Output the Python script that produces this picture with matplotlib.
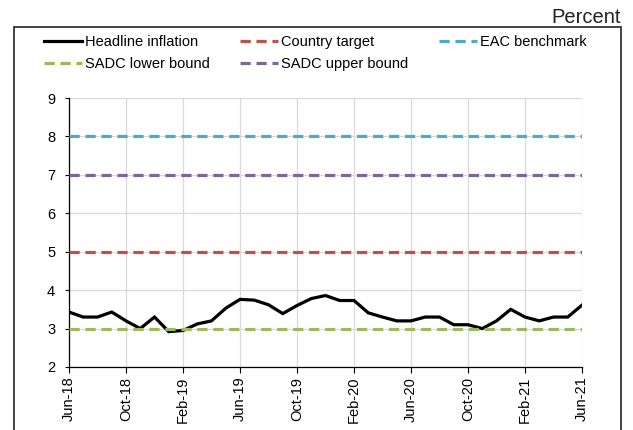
import matplotlib
matplotlib.use('Agg')
import matplotlib.pyplot as plt
from matplotlib.patches import Rectangle

plt.rcParams['font.family'] = ['Liberation Sans', 'DejaVu Sans']

# --- DATA ---
months = ['Jun-18', 'Jul-18', 'Aug-18', 'Sep-18', 'Oct-18', 'Nov-18', 'Dec-18',
          'Jan-19', 'Feb-19', 'Mar-19', 'Apr-19', 'May-19', 'Jun-19', 'Jul-19',
          'Aug-19', 'Sep-19', 'Oct-19', 'Nov-19', 'Dec-19', 'Jan-20', 'Feb-20',
          'Mar-20', 'Apr-20', 'May-20', 'Jun-20', 'Jul-20', 'Aug-20', 'Sep-20',
          'Oct-20', 'Nov-20', 'Dec-20', 'Jan-21', 'Feb-21', 'Mar-21', 'Apr-21',
          'May-21', 'Jun-21']
headline = [3.43, 3.3, 3.3, 3.43, 3.2, 3.0, 3.3, 2.92, 2.95, 3.12, 3.2, 3.53,
            3.76, 3.74, 3.62, 3.39, 3.6, 3.78, 3.86, 3.73, 3.73, 3.41, 3.3,
            3.2, 3.2, 3.3, 3.3, 3.1, 3.1, 3.0, 3.2, 3.5, 3.3, 3.2, 3.3, 3.3, 3.61]
country_target = 5
eac_benchmark = 8
sadc_lower = 3
sadc_upper = 7

W, H = 633, 430
fig = plt.figure(figsize=(W / 100, H / 100), dpi=100)
ax = fig.add_axes([69 / W, 1 - 367 / H, (582 - 69) / W, (367 - 98) / H])

x = list(range(len(months)))
lw = 2.3
dash = (3.2, 1.8)

ax.plot(x, headline, color='black', lw=lw, zorder=3, label='Headline inflation',
        solid_joinstyle='miter')
ax.plot(x, [country_target] * len(x), color='#c0504d', lw=lw, dashes=dash,
        zorder=4, label='Country target')
ax.plot(x, [eac_benchmark] * len(x), color='#4bacc6', lw=lw, dashes=dash,
        zorder=4, label='EAC benchmark')
ax.plot(x, [sadc_lower] * len(x), color='#9bbb59', lw=lw, dashes=dash,
        zorder=4, label='SADC lower bound')
ax.plot(x, [sadc_upper] * len(x), color='#8064a2', lw=lw, dashes=dash,
        zorder=4, label='SADC upper bound')

ax.set_xlim(0, len(x) - 1)
ax.set_ylim(2, 9)
ax.set_yticks(range(2, 10))
ax.set_xticks(x[::4])
ax.set_xticklabels(months[::4], rotation=90)
ax.tick_params(axis='both', labelsize=10.5, colors='black', width=0.8)
ax.tick_params(axis='y', length=3, pad=7)
ax.tick_params(axis='x', length=4, pad=3)
ax.grid(True, color='#d9d9d9', lw=0.9)
ax.set_axisbelow(True)
for s in ['top', 'right']:
    ax.spines[s].set_visible(False)
for s in ['left', 'bottom']:
    ax.spines[s].set_linewidth(0.9)

# legend: reorder so rows read H, C, E / L, U
h, l = ax.get_legend_handles_labels()
order = [0, 3, 1, 4, 2]
fig.legend([h[i] for i in order], [l[i] for i in order], ncol=3,
           loc='upper left', bbox_to_anchor=(44 / W, 1 - 35 / H),
           frameon=False, fontsize=10.5, handlelength=2.6, handletextpad=0.2,
           columnspacing=2.1, labelspacing=0.55, borderpad=0, borderaxespad=0)

# outer frame and unit label
fig.add_artist(Rectangle((14 / W, -0.05), (621 - 14) / W, 1.05 - 27 / H,
                         transform=fig.transFigure, fill=False,
                         edgecolor='#222222', lw=1.2, clip_on=False))
fig.text(621 / W, 1 - 23 / H, 'Percent', ha='right', va='baseline',
         fontsize=14.5, color='#222222')

fig.savefig('out.png', dpi=100)
